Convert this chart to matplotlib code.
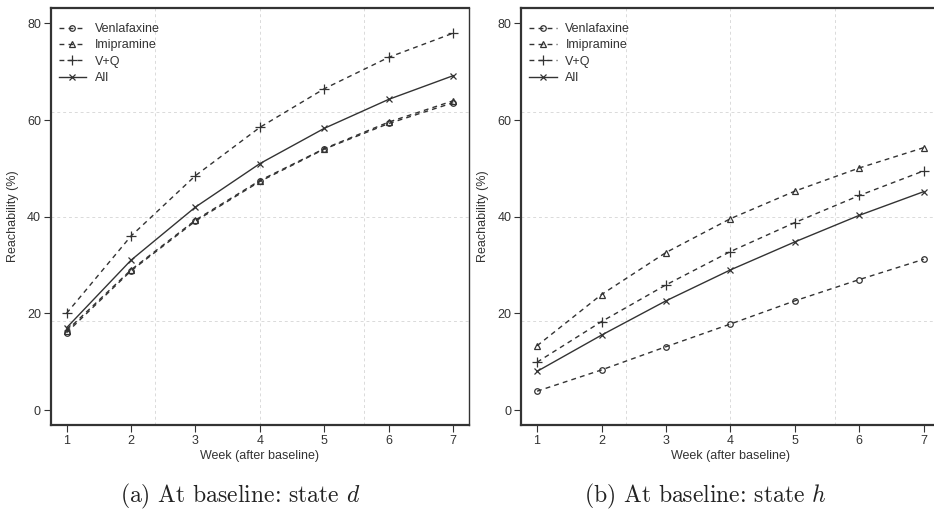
import numpy as np
import matplotlib
matplotlib.use("Agg")
import matplotlib.pyplot as plt

plt.rcParams["font.family"] = ["Liberation Sans", "DejaVu Sans"]
plt.rcParams["mathtext.fontset"] = "cm"

weeks = [1, 2, 3, 4, 5, 6, 7]
series_names = ["Venlafaxine", "Imipramine", "V+Q", "All"]

# state d at baseline
venla_d = [16.0, 28.8, 39.1, 47.3, 54.0, 59.3, 63.6]
imip_d = [16.4, 29.0, 39.3, 47.5, 54.1, 59.6, 64.0]
vq_d = [20.0, 36.0, 48.5, 58.5, 66.5, 73.0, 78.0]
all_d = [17.0, 31.0, 42.0, 51.0, 58.3, 64.3, 69.2]

# state h at baseline
venla_h = [3.9, 8.3, 13.1, 17.8, 22.6, 27.0, 31.2]
imip_h = [13.3, 23.9, 32.6, 39.6, 45.3, 50.1, 54.3]
vq_h = [9.9, 18.3, 25.9, 32.8, 38.8, 44.4, 49.5]
all_h = [8.0, 15.5, 22.6, 29.0, 34.8, 40.3, 45.2]

captions = ["(a) At baseline: state $d$", "(b) At baseline: state $h$"]

ink = "#333333"
styles = [
    dict(ls=(0, (3.5, 3)), marker="o", ms=4, mfc="none"),
    dict(ls=(0, (3.5, 3)), marker="^", ms=4.5, mfc="none"),
    dict(ls=(0, (3.5, 3)), marker="+", ms=6.5, mfc="none"),
    dict(ls="-", marker="x", ms=4.5, mfc="none"),
]

fig = plt.figure(figsize=(9.34, 5.19), dpi=100)
ax_d = fig.add_axes([0.0543, 0.1811, 0.4479, 0.8035])
ax_h = fig.add_axes([0.5581, 0.1811, 0.4479, 0.8035])

xlim = (0.755, 7.245)
ylim = (-3.1, 83.2)

panels = [(ax_d, [venla_d, imip_d, vq_d, all_d]),
          (ax_h, [venla_h, imip_h, vq_h, all_h])]

for ax, data in panels:
    ax.set_xlim(*xlim)
    ax.set_ylim(*ylim)
    # grid splits the plot region into quarters (not on the ticks)
    for k in (1, 2, 3):
        gx = xlim[0] + k * (xlim[1] - xlim[0]) / 4
        gy = ylim[0] + k * (ylim[1] - ylim[0]) / 4
        ax.axvline(gx, color="#dadada", lw=0.7, ls=(0, (3, 3)), zorder=0)
        ax.axhline(gy, color="#dadada", lw=0.7, ls=(0, (3, 3)), zorder=0)

    for name, vals, st in zip(series_names, data, styles):
        ax.plot(weeks, vals, color=ink, lw=1.0, mec=ink, mew=0.9,
                label=name, **st)

    ax.set_xticks(weeks)
    ax.set_yticks([0, 20, 40, 60, 80])
    ax.tick_params(direction="out", length=5, width=0.8, color=ink,
                   labelcolor=ink, labelsize=9, pad=2)
    for side in ("left", "bottom", "top"):
        ax.spines[side].set_linewidth(1.6)
        ax.spines[side].set_color(ink)
    ax.spines["right"].set_linewidth(1.0)
    ax.spines["right"].set_color(ink)
    ax.set_xlabel("Week (after baseline)", fontsize=9, color=ink, labelpad=2)
    ax.set_ylabel("Reachability (%)", fontsize=9, color=ink, labelpad=6)

    ax.legend(loc="upper left", bbox_to_anchor=(-0.005, 0.988), frameon=False,
              fontsize=9, handlelength=2.2, handletextpad=0.7,
              labelspacing=0.35, borderaxespad=0.4, labelcolor=ink)

fig.text(0.257, 0.043, captions[0], ha="center", va="center",
         fontsize=17, family="cmr10", color="#222222")
fig.text(0.755, 0.043, captions[1], ha="center", va="center",
         fontsize=17, family="cmr10", color="#222222")

fig.savefig("out.png", dpi=100)
